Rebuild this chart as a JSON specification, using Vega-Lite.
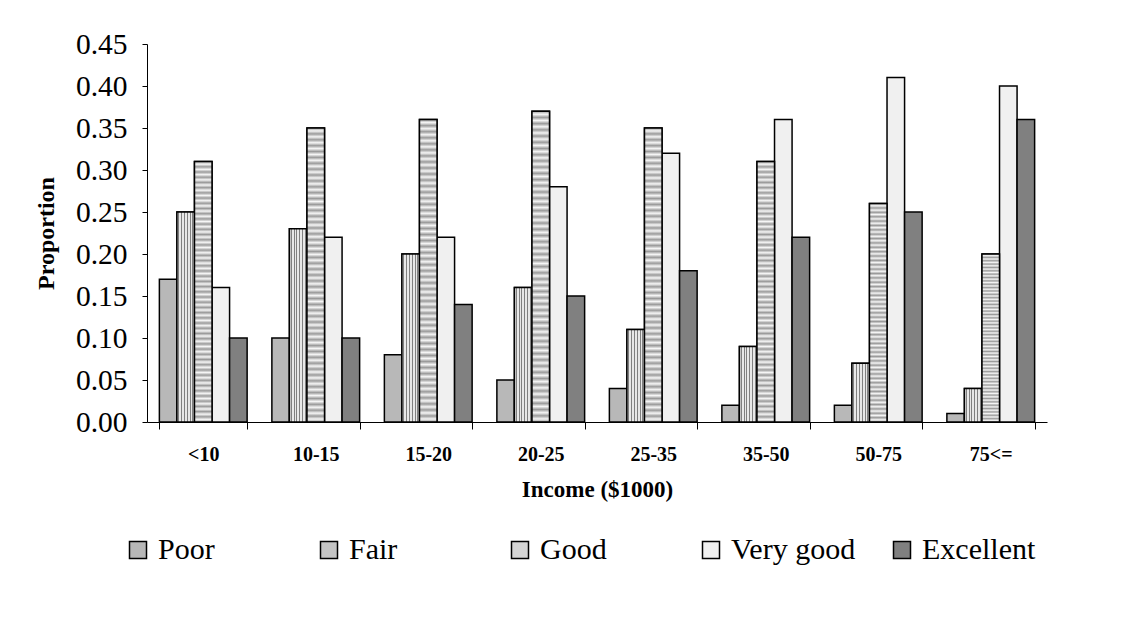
{
  "$schema": "https://vega.github.io/schema/vega-lite/v6.json",
  "autosize": {"type": "none"},
  "padding": {"left": 147, "top": 44, "right": 89, "bottom": 199},
  "width": 900,
  "height": 378,
  "background": "white",
  "config": {
    "view": {"stroke": null},
    "axis": {"labelColor": "black", "titleColor": "black", "domainColor": "black", "tickColor": "black", "grid": false},
    "legend": {"labelColor": "black"}
  },
  "data": {
    "values": [
      {"Income": "<10", "Rating": "Poor", "Proportion": 0.17},
      {"Income": "<10", "Rating": "Fair", "Proportion": 0.25},
      {"Income": "<10", "Rating": "Good", "Proportion": 0.31},
      {"Income": "<10", "Rating": "Very good", "Proportion": 0.16},
      {"Income": "<10", "Rating": "Excellent", "Proportion": 0.10},
      {"Income": "10-15", "Rating": "Poor", "Proportion": 0.10},
      {"Income": "10-15", "Rating": "Fair", "Proportion": 0.23},
      {"Income": "10-15", "Rating": "Good", "Proportion": 0.35},
      {"Income": "10-15", "Rating": "Very good", "Proportion": 0.22},
      {"Income": "10-15", "Rating": "Excellent", "Proportion": 0.10},
      {"Income": "15-20", "Rating": "Poor", "Proportion": 0.08},
      {"Income": "15-20", "Rating": "Fair", "Proportion": 0.20},
      {"Income": "15-20", "Rating": "Good", "Proportion": 0.36},
      {"Income": "15-20", "Rating": "Very good", "Proportion": 0.22},
      {"Income": "15-20", "Rating": "Excellent", "Proportion": 0.14},
      {"Income": "20-25", "Rating": "Poor", "Proportion": 0.05},
      {"Income": "20-25", "Rating": "Fair", "Proportion": 0.16},
      {"Income": "20-25", "Rating": "Good", "Proportion": 0.37},
      {"Income": "20-25", "Rating": "Very good", "Proportion": 0.28},
      {"Income": "20-25", "Rating": "Excellent", "Proportion": 0.15},
      {"Income": "25-35", "Rating": "Poor", "Proportion": 0.04},
      {"Income": "25-35", "Rating": "Fair", "Proportion": 0.11},
      {"Income": "25-35", "Rating": "Good", "Proportion": 0.35},
      {"Income": "25-35", "Rating": "Very good", "Proportion": 0.32},
      {"Income": "25-35", "Rating": "Excellent", "Proportion": 0.18},
      {"Income": "35-50", "Rating": "Poor", "Proportion": 0.02},
      {"Income": "35-50", "Rating": "Fair", "Proportion": 0.09},
      {"Income": "35-50", "Rating": "Good", "Proportion": 0.31},
      {"Income": "35-50", "Rating": "Very good", "Proportion": 0.36},
      {"Income": "35-50", "Rating": "Excellent", "Proportion": 0.22},
      {"Income": "50-75", "Rating": "Poor", "Proportion": 0.02},
      {"Income": "50-75", "Rating": "Fair", "Proportion": 0.07},
      {"Income": "50-75", "Rating": "Good", "Proportion": 0.26},
      {"Income": "50-75", "Rating": "Very good", "Proportion": 0.41},
      {"Income": "50-75", "Rating": "Excellent", "Proportion": 0.25},
      {"Income": "75<=", "Rating": "Poor", "Proportion": 0.01},
      {"Income": "75<=", "Rating": "Fair", "Proportion": 0.04},
      {"Income": "75<=", "Rating": "Good", "Proportion": 0.20},
      {"Income": "75<=", "Rating": "Very good", "Proportion": 0.40},
      {"Income": "75<=", "Rating": "Excellent", "Proportion": 0.36}
    ]
  },
  "encoding": {
    "x": {
      "field": "Income", "type": "nominal", "sort": null,
      "scale": {"domain": ["<10", "10-15", "15-20", "20-25", "25-35", "35-50", "50-75", "75<="], "paddingInner": 0.22, "paddingOuter": 0.11},
      "axis": {
        "title": "Income ($1000)", "labelAngle": 0, "tickBand": "extent",
        "labelFont": "Liberation Serif",
        "labelFontSize": 20, "labelFontWeight": "bold", "labelPadding": 15,
        "tickSize": 7, "domainWidth": 1, "tickWidth": 1,
        "titleFont": "Liberation Serif",
        "titleFontSize": 23, "titleFontWeight": "bold", "titlePadding": 14
      }
    },
    "xOffset": {
      "field": "Rating", "type": "nominal",
      "scale": {"domain": ["Poor", "Fair", "Good", "Very good", "Excellent"], "paddingInner": 0, "paddingOuter": 0}
    },
    "y": {
      "field": "Proportion", "type": "quantitative",
      "scale": {"domain": [0, 0.45], "nice": false},
      "axis": {
        "title": "Proportion", "values": [0, 0.05, 0.1, 0.15, 0.2, 0.25, 0.3, 0.35, 0.4, 0.45],
        "format": ".2f",
        "labelFont": "Liberation Serif",
        "labelFontSize": 29.5, "labelPadding": 15, "tickSize": 5,
        "domainWidth": 1, "tickWidth": 1,
        "titleFont": "Liberation Serif",
        "titleFontSize": 24, "titleFontWeight": "bold", "titlePadding": 17
      }
    }
  },
  "layer": [
    {
      "mark": {"type": "bar", "stroke": "black", "strokeWidth": 1.5, "opacity": 1},
      "encoding": {
        "color": {
          "field": "Rating", "type": "nominal",
          "scale": {
            "domain": ["Poor", "Fair", "Good", "Very good", "Excellent"],
            "range": ["#b8b8b8", "#c4c4c4", "#d4d4d4", "#f0f0f0", "#808080"]
          },
          "legend": {
            "title": null, "orient": "none", "direction": "horizontal",
            "legendX": -24, "legendY": 491,
            "symbolType": "square", "symbolSize": 289, "symbolStrokeColor": "black", "symbolStrokeWidth": 1.5,
            "symbolOpacity": 1,
            "labelFont": "Liberation Serif",
            "labelFontSize": 30, "labelOffset": 5, "labelLimit": 300,
            "columnPadding": 31, "gridAlign": "all",
            "encode": {"symbols": {"update": {"stroke": {"value": "black"}, "strokeWidth": {"value": 1.5}}}}
          }
        }
      }
    },
    {
      "transform": [{"filter": "datum.Rating === 'Fair'"}],
      "mark": {"type": "bar", "stroke": "black", "strokeWidth": 1.5, "opacity": 1,
        "fill": {"gradient": "linear", "x1": 0, "y1": 0, "x2": 1, "y2": 0, "stops": [
            {"offset": 0, "color": "#e8e8e8"}, {"offset": 0.08, "color": "#e8e8e8"},
            {"offset": 0.08, "color": "#808080"}, {"offset": 0.14, "color": "#808080"},
            {"offset": 0.14, "color": "#e8e8e8"}, {"offset": 0.24, "color": "#e8e8e8"},
            {"offset": 0.24, "color": "#808080"}, {"offset": 0.30, "color": "#808080"},
            {"offset": 0.30, "color": "#e8e8e8"}, {"offset": 0.40, "color": "#e8e8e8"},
            {"offset": 0.40, "color": "#808080"}, {"offset": 0.46, "color": "#808080"},
            {"offset": 0.46, "color": "#e8e8e8"}, {"offset": 0.56, "color": "#e8e8e8"},
            {"offset": 0.56, "color": "#808080"}, {"offset": 0.62, "color": "#808080"},
            {"offset": 0.62, "color": "#e8e8e8"}, {"offset": 0.72, "color": "#e8e8e8"},
            {"offset": 0.72, "color": "#808080"}, {"offset": 0.78, "color": "#808080"},
            {"offset": 0.78, "color": "#e8e8e8"}, {"offset": 0.88, "color": "#e8e8e8"},
            {"offset": 0.88, "color": "#808080"}, {"offset": 0.94, "color": "#808080"},
            {"offset": 0.94, "color": "#e8e8e8"}, {"offset": 1, "color": "#e8e8e8"}
          ]}
      }
    },
    {
      "transform": [{"filter": "datum.Rating === 'Good'"}],
      "mark": {"type": "bar", "stroke": "black", "strokeWidth": 1.5, "opacity": 1,
        "fill": {"gradient": "linear", "x1": 0, "y1": 0, "x2": 0, "y2": 1, "stops": [
            {"offset": 0.00, "color": "#9a9a9a"}, {"offset": 0.01, "color": "#f6f6f6"},
            {"offset": 0.02, "color": "#9a9a9a"}, {"offset": 0.03, "color": "#f6f6f6"},
            {"offset": 0.04, "color": "#9a9a9a"}, {"offset": 0.05, "color": "#f6f6f6"},
            {"offset": 0.06, "color": "#9a9a9a"}, {"offset": 0.07, "color": "#f6f6f6"},
            {"offset": 0.08, "color": "#9a9a9a"}, {"offset": 0.09, "color": "#f6f6f6"},
            {"offset": 0.10, "color": "#9a9a9a"}, {"offset": 0.11, "color": "#f6f6f6"},
            {"offset": 0.12, "color": "#9a9a9a"}, {"offset": 0.13, "color": "#f6f6f6"},
            {"offset": 0.14, "color": "#9a9a9a"}, {"offset": 0.15, "color": "#f6f6f6"},
            {"offset": 0.16, "color": "#9a9a9a"}, {"offset": 0.17, "color": "#f6f6f6"},
            {"offset": 0.18, "color": "#9a9a9a"}, {"offset": 0.19, "color": "#f6f6f6"},
            {"offset": 0.20, "color": "#9a9a9a"}, {"offset": 0.21, "color": "#f6f6f6"},
            {"offset": 0.22, "color": "#9a9a9a"}, {"offset": 0.23, "color": "#f6f6f6"},
            {"offset": 0.24, "color": "#9a9a9a"}, {"offset": 0.25, "color": "#f6f6f6"},
            {"offset": 0.26, "color": "#9a9a9a"}, {"offset": 0.27, "color": "#f6f6f6"},
            {"offset": 0.28, "color": "#9a9a9a"}, {"offset": 0.29, "color": "#f6f6f6"},
            {"offset": 0.30, "color": "#9a9a9a"}, {"offset": 0.31, "color": "#f6f6f6"},
            {"offset": 0.32, "color": "#9a9a9a"}, {"offset": 0.33, "color": "#f6f6f6"},
            {"offset": 0.34, "color": "#9a9a9a"}, {"offset": 0.35, "color": "#f6f6f6"},
            {"offset": 0.36, "color": "#9a9a9a"}, {"offset": 0.37, "color": "#f6f6f6"},
            {"offset": 0.38, "color": "#9a9a9a"}, {"offset": 0.39, "color": "#f6f6f6"},
            {"offset": 0.40, "color": "#9a9a9a"}, {"offset": 0.41, "color": "#f6f6f6"},
            {"offset": 0.42, "color": "#9a9a9a"}, {"offset": 0.43, "color": "#f6f6f6"},
            {"offset": 0.44, "color": "#9a9a9a"}, {"offset": 0.45, "color": "#f6f6f6"},
            {"offset": 0.46, "color": "#9a9a9a"}, {"offset": 0.47, "color": "#f6f6f6"},
            {"offset": 0.48, "color": "#9a9a9a"}, {"offset": 0.49, "color": "#f6f6f6"},
            {"offset": 0.50, "color": "#9a9a9a"}, {"offset": 0.51, "color": "#f6f6f6"},
            {"offset": 0.52, "color": "#9a9a9a"}, {"offset": 0.53, "color": "#f6f6f6"},
            {"offset": 0.54, "color": "#9a9a9a"}, {"offset": 0.55, "color": "#f6f6f6"},
            {"offset": 0.56, "color": "#9a9a9a"}, {"offset": 0.57, "color": "#f6f6f6"},
            {"offset": 0.58, "color": "#9a9a9a"}, {"offset": 0.59, "color": "#f6f6f6"},
            {"offset": 0.60, "color": "#9a9a9a"}, {"offset": 0.61, "color": "#f6f6f6"},
            {"offset": 0.62, "color": "#9a9a9a"}, {"offset": 0.63, "color": "#f6f6f6"},
            {"offset": 0.64, "color": "#9a9a9a"}, {"offset": 0.65, "color": "#f6f6f6"},
            {"offset": 0.66, "color": "#9a9a9a"}, {"offset": 0.67, "color": "#f6f6f6"},
            {"offset": 0.68, "color": "#9a9a9a"}, {"offset": 0.69, "color": "#f6f6f6"},
            {"offset": 0.70, "color": "#9a9a9a"}, {"offset": 0.71, "color": "#f6f6f6"},
            {"offset": 0.72, "color": "#9a9a9a"}, {"offset": 0.73, "color": "#f6f6f6"},
            {"offset": 0.74, "color": "#9a9a9a"}, {"offset": 0.75, "color": "#f6f6f6"},
            {"offset": 0.76, "color": "#9a9a9a"}, {"offset": 0.77, "color": "#f6f6f6"},
            {"offset": 0.78, "color": "#9a9a9a"}, {"offset": 0.79, "color": "#f6f6f6"},
            {"offset": 0.80, "color": "#9a9a9a"}, {"offset": 0.81, "color": "#f6f6f6"},
            {"offset": 0.82, "color": "#9a9a9a"}, {"offset": 0.83, "color": "#f6f6f6"},
            {"offset": 0.84, "color": "#9a9a9a"}, {"offset": 0.85, "color": "#f6f6f6"},
            {"offset": 0.86, "color": "#9a9a9a"}, {"offset": 0.87, "color": "#f6f6f6"},
            {"offset": 0.88, "color": "#9a9a9a"}, {"offset": 0.89, "color": "#f6f6f6"},
            {"offset": 0.90, "color": "#9a9a9a"}, {"offset": 0.91, "color": "#f6f6f6"},
            {"offset": 0.92, "color": "#9a9a9a"}, {"offset": 0.93, "color": "#f6f6f6"},
            {"offset": 0.94, "color": "#9a9a9a"}, {"offset": 0.95, "color": "#f6f6f6"},
            {"offset": 0.96, "color": "#9a9a9a"}, {"offset": 0.97, "color": "#f6f6f6"},
            {"offset": 0.98, "color": "#9a9a9a"}, {"offset": 0.99, "color": "#f6f6f6"},
            {"offset": 1.00, "color": "#9a9a9a"}
          ]}
      }
    }
  ]
}
